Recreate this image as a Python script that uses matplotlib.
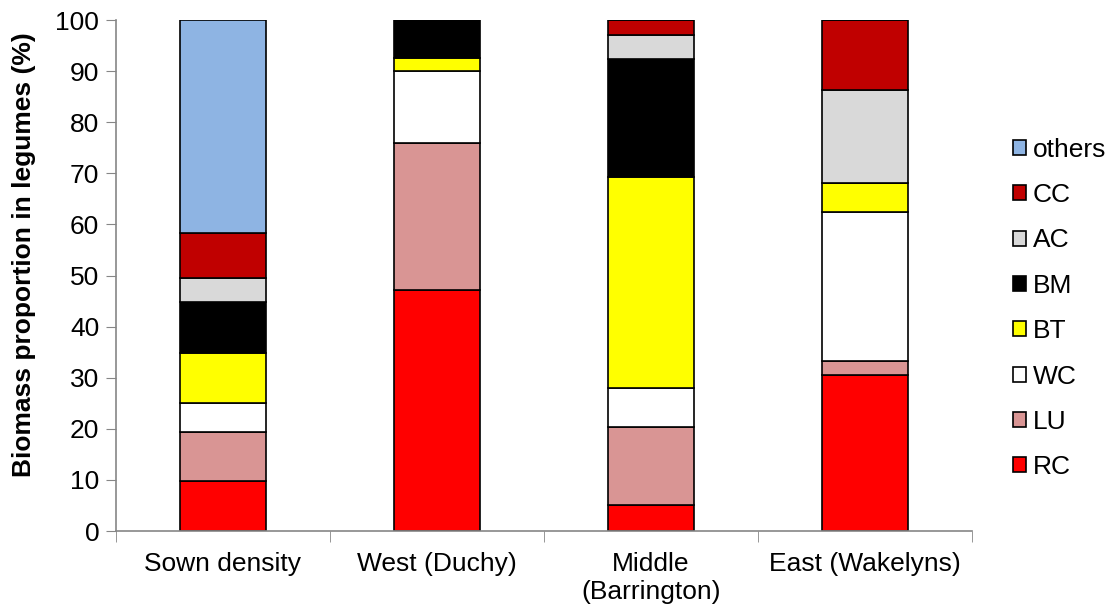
import numpy as np
import matplotlib
matplotlib.use("Agg")
import matplotlib.pyplot as plt

plt.rcParams['font.family'] = ['Liberation Sans', 'DejaVu Sans']

sites = ["Sown density", "West (Duchy)", "Middle\n(Barrington)", "East (Wakelyns)"]

# species proportions (%), bottom to top
RC = [9.7, 47.2, 5.1, 30.5]
LU = [9.6, 28.7, 15.2, 2.8]
WC = [5.8, 14.1, 7.7, 29.2]
BT = [9.7, 2.6, 41.2, 5.6]
BM = [10.0, 7.4, 23.2, 0.0]
AC = [4.7, 0.0, 4.6, 18.2]
CC = [8.8, 0.0, 3.0, 13.7]
others = [41.7, 0.0, 0.0, 0.0]

species = ["RC", "LU", "WC", "BT", "BM", "AC", "CC", "others"]
values = [RC, LU, WC, BT, BM, AC, CC, others]
colors = ["#ff0000", "#d99594", "#ffffff", "#ffff00", "#000000", "#d9d9d9", "#c00000", "#8eb4e3"]

fig = plt.figure(figsize=(11.13, 6.07), dpi=100)
ax = fig.add_axes([0.1042, 0.1252, 0.7691, 0.8418])

x = np.arange(len(sites))
bottom = np.zeros(len(sites))
for name, vals, c in zip(species, values, colors):
    vals = np.array(vals)
    ax.bar(x, vals, 0.4, bottom=bottom, color=c, edgecolor="black", linewidth=1.2, label=name)
    bottom += vals

ax.set_xlim(-0.5, 3.5)
ax.set_ylim(0, 100)
ax.set_yticks(range(0, 101, 10))
ax.tick_params(axis="y", labelsize=19, length=7, color="#868686", direction="out", pad=5)
ax.set_xticks(x)
ax.set_xticklabels(sites, fontsize=19)
ax.tick_params(axis="x", length=0, pad=15)
# tick marks between categories
ax.set_xticks(np.arange(-0.5, 4.0, 1.0), minor=True)
ax.tick_params(axis="x", which="minor", length=8, color="#868686")

for s in ["top", "right"]:
    ax.spines[s].set_visible(False)
for s in ["left", "bottom"]:
    ax.spines[s].set_color("#868686")
    ax.spines[s].set_linewidth(1.2)

ax.set_ylabel("Biomass proportion in legumes (%)", fontsize=19, fontweight="bold", labelpad=12)
ax.yaxis.set_label_coords(-0.094, 0.54)

h, l = ax.get_legend_handles_labels()
fig.legend(h[::-1], l[::-1], loc="center left", bbox_to_anchor=(1013 / 1113, 1 - 308.5 / 607),
           frameon=False, fontsize=19, handlelength=0.5, handleheight=0.5, handletextpad=0.25,
           labelspacing=0.81, borderaxespad=0, borderpad=0)

fig.savefig("out.png", dpi=100)
